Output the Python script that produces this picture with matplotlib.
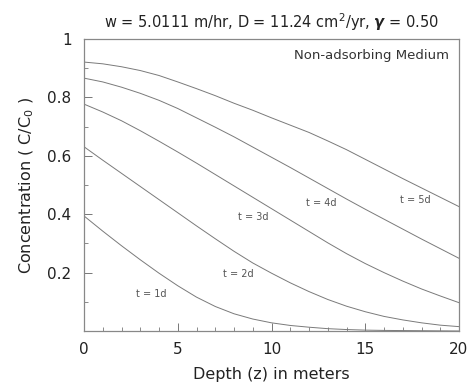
import numpy as np
import matplotlib.pyplot as plt
from matplotlib.ticker import MultipleLocator, FuncFormatter

plt.rcParams['font.family'] = ['DejaVu Sans']

# depth (m) and C/C0
z = [0, 1, 2, 3, 4, 5, 6, 7, 8, 9, 10, 11, 12, 13, 14, 15, 16, 17, 18, 19, 20]
c_5d = [0.921, 0.915, 0.905, 0.892, 0.875, 0.853, 0.83, 0.806, 0.78, 0.756, 0.73,
        0.705, 0.68, 0.651, 0.621, 0.588, 0.555, 0.522, 0.49, 0.458, 0.426]
c_4d = [0.866, 0.853, 0.835, 0.814, 0.79, 0.762, 0.73, 0.698, 0.665, 0.63, 0.595,
        0.56, 0.524, 0.488, 0.452, 0.417, 0.383, 0.349, 0.315, 0.282, 0.249]
c_3d = [0.777, 0.75, 0.72, 0.686, 0.65, 0.613, 0.575, 0.536, 0.497, 0.458, 0.419,
        0.38, 0.341, 0.302, 0.265, 0.231, 0.2, 0.171, 0.144, 0.12, 0.097]
c_2d = [0.631, 0.585, 0.54, 0.495, 0.45, 0.405, 0.36, 0.316, 0.273, 0.233, 0.198,
        0.165, 0.135, 0.108, 0.085, 0.066, 0.05, 0.038, 0.028, 0.02, 0.015]
c_1d = [0.394, 0.342, 0.292, 0.244, 0.198, 0.155, 0.116, 0.084, 0.059, 0.041, 0.028,
        0.019, 0.013, 0.008, 0.005, 0.003, 0.002, 0.0015, 0.001, 0.0005, 0.0]

labels = ['t = 1d', 't = 2d', 't = 3d', 't = 4d', 't = 5d']
label_x = [3.61, 8.23, 9.03, 12.68, 17.65]
label_y = [0.126, 0.195, 0.389, 0.437, 0.449]

fig = plt.figure(figsize=(4.70, 3.87), dpi=100)
ax = fig.add_axes([84/470, 1 - 331/387, 375/470, 292/387])

line_color = '#7a7a7a'
for c in [c_1d, c_2d, c_3d, c_4d, c_5d]:
    ax.plot(z, c, color=line_color, lw=0.7)

for lab, lx, ly in zip(labels, label_x, label_y):
    ax.text(lx, ly, lab, fontsize=7, color='#555555', ha='center', va='center')

ax.text(19.45, 0.945, 'Non-adsorbing Medium', fontsize=9.5, color='#333333', ha='right', va='center')

ax.set_xlim(0, 20)
ax.set_ylim(0, 1)
ax.xaxis.set_major_locator(MultipleLocator(5))
ax.xaxis.set_minor_locator(MultipleLocator(1))
ax.yaxis.set_major_locator(MultipleLocator(0.2))
ax.yaxis.set_minor_locator(MultipleLocator(0.1))


def yfmt(v, pos):
    if abs(v) < 1e-9:
        return ''
    if abs(v - 1) < 1e-9:
        return '1'
    return '%.1f' % v


ax.yaxis.set_major_formatter(FuncFormatter(yfmt))
ax.tick_params(which='both', direction='in', top=False, right=False, color='#777777',
               labelsize=11, labelcolor='#222222')
ax.tick_params(which='major', length=6, width=0.7)
ax.tick_params(which='minor', length=3, width=0.6)
ax.tick_params(axis='x', pad=8)
ax.tick_params(axis='y', pad=9)

for s in ax.spines.values():
    s.set_color('#888888')
    s.set_linewidth(0.9)

ax.set_xlabel('Depth (z) in meters', fontsize=11.5, labelpad=7, color='#222222')
ax.set_ylabel('Concentration ( C/C$_0$ )', fontsize=11.5, labelpad=8, color='#222222')
ax.set_title('w = 5.0111 m/hr, D = 11.24 cm$^2$/yr, $\\boldsymbol{\\gamma}$ = 0.50',
             fontsize=10.5, pad=8, color='#222222')

fig.savefig('out.png', dpi=100)
